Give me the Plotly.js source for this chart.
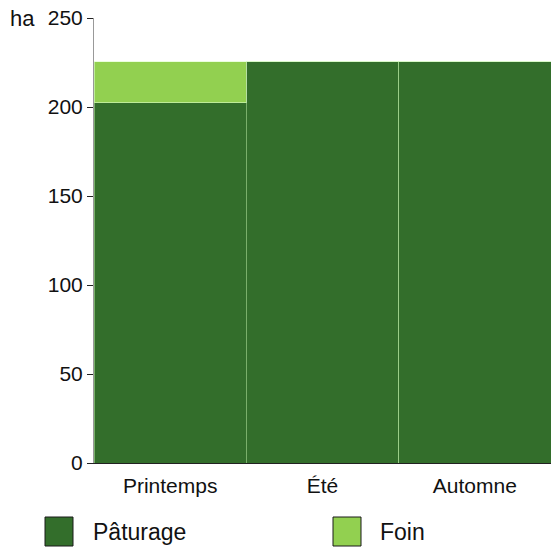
<!DOCTYPE html>
<html><head><meta charset="utf-8">
<script src="https://cdn.plot.ly/plotly-3.0.1.min.js"></script>
<style>html,body{margin:0;padding:0;background:#fff}</style>
</head><body>
<div id="chart" style="width:551px;height:548px"></div>
<script>
const categories = ["Printemps", "Été", "Automne"];
const paturage = [202.5, 225.5, 225.5];
const foin = [23, 0, 0];
const seriesNames = ["Pâturage", "Foin"];
const yTicks = [0, 50, 100, 150, 200, 250];

const darkGreen = "#336e2b";
const lightGreen = "#92d050";
const font = {family: "Liberation Sans, Arial, sans-serif", size: 21, color: "#111"};
const PW = 457, PH = 445;

const traces = [
  {type: "bar", x: categories, y: paturage, name: seriesNames[0],
   marker: {color: darkGreen, line: {color: "rgba(180,230,160,0.55)", width: 1}}, showlegend: false},
  {type: "bar", x: categories, y: foin, name: seriesNames[1],
   marker: {color: lightGreen, line: {color: "rgba(220,255,200,0.6)", width: 1}}, showlegend: false}
];

const layout = {
  width: 551, height: 548,
  margin: {l: 94, r: 0, t: 18, b: 85},
  barmode: "stack", bargap: 0,
  paper_bgcolor: "#fff", plot_bgcolor: "#fff",
  font: font,
  xaxis: {tickvals: categories, ticktext: categories, showline: true, linecolor: "#222", linewidth: 1,
          ticks: "", showgrid: false, tickfont: {size: 21}, range: [-0.5, 2.5], fixedrange: true,
          ticklabelstandoff: 4},
  yaxis: {range: [0, 250], tickvals: yTicks, showline: true, linecolor: "#999", linewidth: 1,
          ticks: "outside", ticklen: 6, tickcolor: "#222", showgrid: false, zeroline: false,
          tickfont: {size: 21}, ticklabelstandoff: 0},
  shapes: [
    {type: "rect", xref: "paper", yref: "paper", x0: -49/PW, x1: -21/PW, y0: -83/PH, y1: -54/PH,
     fillcolor: darkGreen, line: {color: "#1a1a1a", width: 1}},
    {type: "rect", xref: "paper", yref: "paper", x0: 239/PW, x1: 267/PW, y0: -83/PH, y1: -54/PH,
     fillcolor: lightGreen, line: {color: "#1a1a1a", width: 1}}
  ],
  annotations: [
    {text: "ha", xref: "paper", yref: "paper", x: -86/PW, y: 1.0, xanchor: "left", yanchor: "top",
     yshift: 14, showarrow: false, font: {size: 22, color: "#111"}},
    {text: seriesNames[0], xref: "paper", yref: "paper", x: -3/PW, y: -69/PH, xanchor: "left", yanchor: "middle",
     showarrow: false, font: {size: 23, color: "#111"}},
    {text: seriesNames[1], xref: "paper", yref: "paper", x: 284/PW, y: -69/PH, xanchor: "left", yanchor: "middle",
     showarrow: false, font: {size: 23, color: "#111"}}
  ]
};

Plotly.newPlot("chart", traces, layout, {displayModeBar: false, staticPlot: true});
</script>
</body></html>
